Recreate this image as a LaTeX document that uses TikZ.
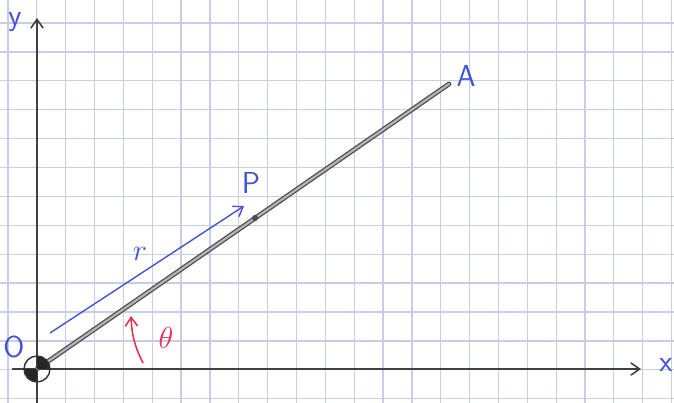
\documentclass[tikz,border=0pt]{standalone}
\usepackage{tikz}
\usetikzlibrary{arrows.meta,positioning}
\definecolor{gridblue}{RGB}{200,204,230}
\definecolor{inkblue}{RGB}{70,82,212}
\definecolor{inkred}{RGB}{226,52,82}

\begin{document}
\begin{tikzpicture}[
  x=0.02cm, y=-0.02cm,
  >={Straight Barb[length=5pt,width=7pt]},
  gridline/.style={draw=gridblue, line width=0.7pt},
  axis/.style={->, draw=black!75, line width=0.9pt},
  rod/.style={draw=black!70, double=black!30, double distance=1.3pt,
              line width=0.7pt, line cap=round},
  lbl/.style={font=\LARGE\sffamily, inner sep=1pt},
  dot/.style={circle, fill=black!70, inner sep=0pt, minimum size=3.5pt}]

\useasboundingbox (0,0) rectangle (674,403);

% Squared paper
\foreach \i in {0,...,23}
  \draw[gridline] ({8+28.85*\i},0) -- ++(0,403);
\foreach \j in {0,...,13}
  \draw[gridline] (0,{23+28.9*\j}) -- ++(674,0);

% Axes
\coordinate (o)      at (37,369);
\coordinate (xstart) at (12,369);
\coordinate (xend)   at (641,369);
\coordinate (ystart) at (37,403);
\coordinate (yend)   at (37,18);
\draw[axis] (xstart) -- (xend);
\draw[axis] (ystart) -- (yend);
\node[lbl, text=inkblue] (xlab) at (666,365) {x};
\node[lbl, text=inkblue] (ylab) at (15,22)   {y};
\node[lbl, text=inkblue] (olab) at (14,347)  {O};

% Rod OA with point P
\coordinate (a) at (449,84);
\draw[rod] (o) -- (a);
\node[lbl, text=inkblue] (alab) at (466,76) {A};
\node[dot] (p) at (255,218) {};
\node[lbl, text=inkblue] (plab) at (251,183) {P};

% Origin marker
\fill[black!85] (o) -- ++(270:13) arc[start angle=270, end angle=360, radius=13] -- cycle;
\fill[black!85] (o) -- ++(90:13) arc[start angle=90, end angle=180, radius=13] -- cycle;
\draw[black!80, line width=0.8pt] (o) circle[radius=13];

% Position r
\coordinate (rs) at (50,333);
\coordinate (re) at (244,206);
\draw[->, inkblue, line width=0.8pt] (rs) -- (re);
\node[lbl, text=inkblue] (rlab) at (140,254) {$r$};

% Angle theta
\coordinate (ts) at (143,363);
\coordinate (te) at (131,316);
\draw[->, inkred, line width=0.9pt] (ts) to[bend left=12] (te);
\node[lbl, text=inkred] (tlab) at (166,338) {$\theta$};
\end{tikzpicture}
\end{document}
